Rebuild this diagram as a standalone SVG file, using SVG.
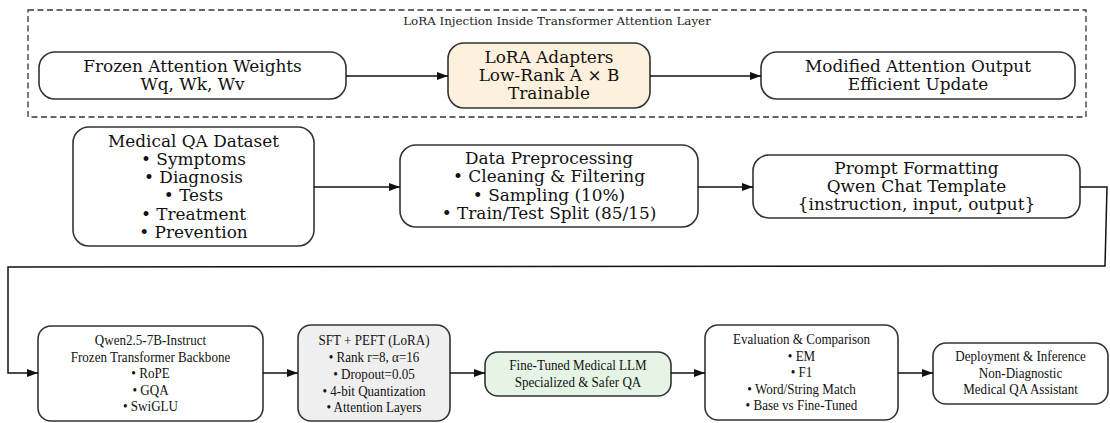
<svg xmlns="http://www.w3.org/2000/svg" width="1110" height="423" viewBox="0 0 1110 423">
<style>
.bg{fill:#ffffff}
.node{fill:#ffffff;stroke:#333333;stroke-width:1.6}
.lora{fill:#fdf0dc}
.grey{fill:#efefef}
.green{fill:#e6f4e6}
.cluster{fill:none;stroke:#333333;stroke-width:1.3;stroke-dasharray:6,3.5}
.t{font-family:"DejaVu Serif","Liberation Serif",serif;font-size:16.9px;fill:#111111;text-anchor:middle}
.ct{font-family:"DejaVu Serif","Liberation Serif",serif;font-size:11.9px;fill:#222222;text-anchor:middle}
.s{font-family:"Liberation Serif","Times New Roman",serif;font-size:15.2px;fill:#111111;text-anchor:middle}
.edge{fill:none;stroke:#111111;stroke-width:1.5}
</style>
<defs>
<marker id="arrow" markerUnits="userSpaceOnUse" markerWidth="12" markerHeight="9" refX="11" refY="4" orient="auto">
<path d="M0,0 L11,4 L0,8 z" fill="#111111"/>
</marker>
</defs>
<rect class="bg" x="0" y="0" width="1110" height="423"/>

<g id="cluster_lora">
<rect class="cluster" x="28" y="10" width="1058" height="107"/>
<text class="ct" x="557" y="25">LoRA Injection Inside Transformer Attention Layer</text>
</g>

<g id="frozen">
<rect class="node" x="39" y="52" width="307" height="47" rx="16"/>
<text class="t" x="192.5" y="72">Frozen Attention Weights</text>
<text class="t" x="192.5" y="90">Wq, Wk, Wv</text>
</g>

<g id="lora">
<rect class="node lora" x="448" y="43" width="202" height="65" rx="16"/>
<text class="t" x="549" y="63">LoRA Adapters</text>
<text class="t" x="549" y="81">Low-Rank A × B</text>
<text class="t" x="549" y="99">Trainable</text>
</g>

<g id="modified">
<rect class="node" x="761" y="52" width="314" height="47" rx="16"/>
<text class="t" x="918" y="72">Modified Attention Output</text>
<text class="t" x="918" y="90">Efficient Update</text>
</g>

<g id="dataset">
<rect class="node" x="73" y="127" width="241" height="119" rx="16"/>
<text class="t" x="193.5" y="146.5">Medical QA Dataset</text>
<text class="t" x="193.5" y="164.8">• Symptoms</text>
<text class="t" x="193.5" y="183.1">• Diagnosis</text>
<text class="t" x="193.5" y="201.4">• Tests</text>
<text class="t" x="193.5" y="219.7">• Treatment</text>
<text class="t" x="193.5" y="238">• Prevention</text>
</g>

<g id="preprocess">
<rect class="node" x="400" y="145" width="298" height="82" rx="16"/>
<text class="t" x="549" y="164">Data Preprocessing</text>
<text class="t" x="549" y="182.3">• Cleaning &amp; Filtering</text>
<text class="t" x="549" y="200.6">• Sampling (10%)</text>
<text class="t" x="549" y="218.9">• Train/Test Split (85/15)</text>
</g>

<g id="prompt">
<rect class="node" x="753" y="155" width="327" height="63" rx="16"/>
<text class="t" x="916.5" y="173.7">Prompt Formatting</text>
<text class="t" x="916.5" y="192">Qwen Chat Template</text>
<text class="t" x="916.5" y="210.3">{instruction, input, output}</text>
</g>

<g id="qwen">
<rect class="node" x="38" y="326" width="225" height="95" rx="13"/>
<g transform="translate(150.5,0) scale(0.86,1)">
<text class="s" x="0" y="345.5">Qwen2.5-7B-Instruct</text>
<text class="s" x="0" y="362">Frozen Transformer Backbone</text>
<text class="s" x="0" y="378.5">• RoPE</text>
<text class="s" x="0" y="395">• GQA</text>
<text class="s" x="0" y="411.5">• SwiGLU</text>
</g>
</g>

<g id="sft">
<rect class="node grey" x="298" y="325" width="152" height="96" rx="13"/>
<g transform="translate(374,0) scale(0.86,1)">
<text class="s" x="0" y="345.5">SFT + PEFT (LoRA)</text>
<text class="s" x="0" y="362.2">• Rank r=8, α=16</text>
<text class="s" x="0" y="378.9">• Dropout=0.05</text>
<text class="s" x="0" y="395.6">• 4-bit Quantization</text>
<text class="s" x="0" y="412.3">• Attention Layers</text>
</g>
</g>

<g id="finetuned">
<rect class="node green" x="485" y="352" width="186" height="44" rx="13"/>
<g transform="translate(578,0) scale(0.86,1)">
<text class="s" x="0" y="370.5">Fine-Tuned Medical LLM</text>
<text class="s" x="0" y="387">Specialized &amp; Safer QA</text>
</g>
</g>

<g id="evaluation">
<rect class="node" x="705" y="325" width="193" height="95" rx="13"/>
<g transform="translate(801.5,0) scale(0.86,1)">
<text class="s" x="0" y="344.5">Evaluation &amp; Comparison</text>
<text class="s" x="0" y="361">• EM</text>
<text class="s" x="0" y="377.5">• F1</text>
<text class="s" x="0" y="394">• Word/String Match</text>
<text class="s" x="0" y="410.5">• Base vs Fine-Tuned</text>
</g>
</g>

<g id="deployment">
<rect class="node" x="933" y="343" width="175" height="61" rx="13"/>
<g transform="translate(1020.5,0) scale(0.86,1)">
<text class="s" x="0" y="361.5">Deployment &amp; Inference</text>
<text class="s" x="0" y="378">Non-Diagnostic</text>
<text class="s" x="0" y="394.5">Medical QA Assistant</text>
</g>
</g>

<g id="connectors">
<path class="edge" d="M346,76 L448,76" marker-end="url(#arrow)"/>
<path class="edge" d="M650,76 L761,76" marker-end="url(#arrow)"/>
<path class="edge" d="M314,187 L400,187" marker-end="url(#arrow)"/>
<path class="edge" d="M698,187 L753,187" marker-end="url(#arrow)"/>
<path class="edge" d="M1080,187 L1107,187 L1105,266 L8,267 L8,373 L38,373" stroke-width="1.8" marker-end="url(#arrow)"/>
<path class="edge" d="M263,373 L298,373" marker-end="url(#arrow)"/>
<path class="edge" d="M450,373 L485,373" marker-end="url(#arrow)"/>
<path class="edge" d="M671,373 L705,373" marker-end="url(#arrow)"/>
<path class="edge" d="M898,373 L933,373" marker-end="url(#arrow)"/>
</g>
</svg>
